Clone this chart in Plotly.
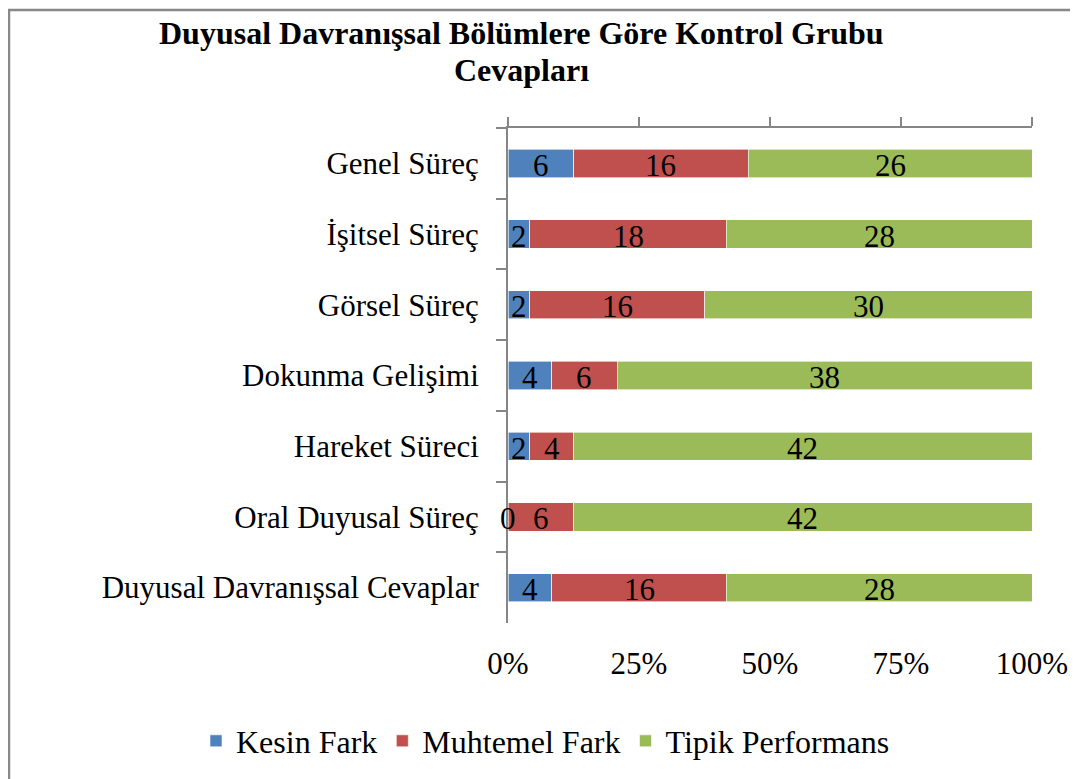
import plotly.graph_objects as go

categories = ["Genel Süreç", "İşitsel Süreç", "Görsel Süreç", "Dokunma Gelişimi",
              "Hareket Süreci", "Oral Duyusal Süreç", "Duyusal Davranışsal Cevaplar"]
kesin_fark = [6, 2, 2, 4, 2, 0, 4]
muhtemel_fark = [16, 18, 16, 6, 4, 6, 16]
tipik_performans = [26, 28, 30, 38, 42, 42, 28]
series_names = ["Kesin Fark", "Muhtemel Fark", "Tipik Performans"]
colors = ["#4F81BD", "#C0504D", "#9BBB59"]
tick_vals = [0, 25, 50, 75, 100]
tick_text = ["0%", "25%", "50%", "75%", "100%"]

# page body has an 8px margin; figure is sized to fit the 1078x779 window
OFF = 8
W, H = 1078 - OFF, 779 - OFF
PL, PR, PT, PB = 508 - OFF, 1032 - OFF, 128 - OFF, 623 - OFF
L, R, T, B = PL, W - PR, PT, H - PB
pw, ph = PR - PL, PB - PT
FONT = "Liberation Serif, Times New Roman, serif"
GRAY = "#868686"


def px_x(x):
    return (x - OFF - PL) / pw


def px_y(y):
    return (PB - (y - OFF)) / ph


series = [kesin_fark, muhtemel_fark, tipik_performans]
totals = [sum(v) for v in zip(*series)]

fig = go.Figure()
for name, vals, col in zip(series_names, series, colors):
    fig.add_trace(go.Bar(
        y=categories, x=vals, name=name, orientation="h",
        marker=dict(color=col, line=dict(color="white", width=0.6)),
        hoverinfo="x+y+name",
    ))

# data labels at segment midpoints (percent scale)
annotations = []
cum = [0.0] * len(categories)
for vals in series:
    for i, v in enumerate(vals):
        p = v / totals[i] * 100
        annotations.append(dict(
            x=cum[i] + p / 2, y=categories[i], xref="x", yref="y",
            text=str(v), showarrow=False, xanchor="center", yanchor="middle",
            yshift=-2, font=dict(family=FONT, size=31, color="black")))
        cum[i] += p

annotations += [
    dict(text="<b>Duyusal Davranışsal Bölümlere Göre Kontrol Grubu</b>",
         xref="paper", yref="paper", x=px_x(521), y=px_y(33),
         xanchor="center", yanchor="middle", showarrow=False,
         font=dict(family=FONT, size=32, color="black")),
    dict(text="<b>Cevapları</b>",
         xref="paper", yref="paper", x=px_x(521), y=px_y(70),
         xanchor="center", yanchor="middle", showarrow=False,
         font=dict(family=FONT, size=32, color="black")),
]

# top axis (line + ticks, no labels)
fig.add_trace(go.Scatter(x=[0, 100], y=[categories[0], categories[0]], xaxis="x2",
                         mode="markers", marker=dict(opacity=0), showlegend=False,
                         hoverinfo="skip"))

fig.update_layout(
    width=W, height=H,
    margin=dict(l=L, r=R, t=T, b=B, pad=0, autoexpand=False),
    paper_bgcolor="white", plot_bgcolor="white",
    barmode="stack", barnorm="percent", bargap=0.6,
    font=dict(family=FONT, size=31, color="black"),
    annotations=annotations,
    xaxis=dict(range=[0, 100], tickvals=tick_vals, ticktext=tick_text,
               showgrid=False, zeroline=False, showline=False, ticks="",
               ticklabelstandoff=19, tickfont=dict(size=31)),
    xaxis2=dict(range=[0, 100], overlaying="x", side="top", tickvals=tick_vals,
                showticklabels=False, showgrid=False, zeroline=False,
                showline=True, linecolor=GRAY, linewidth=2,
                ticks="outside", ticklen=9, tickcolor=GRAY, tickwidth=2),
    yaxis=dict(categoryorder="array", categoryarray=categories, autorange="reversed",
               showgrid=False, zeroline=False, showline=True,
               linecolor=GRAY, linewidth=2,
               ticks="outside", tickson="boundaries", ticklen=10,
               tickcolor=GRAY, tickwidth=2,
               ticklabelstandoff=21, tickfont=dict(size=31)),
    legend=dict(orientation="h", xref="paper", x=px_x(196), xanchor="left",
                y=px_y(741), yanchor="middle",
                font=dict(family=FONT, size=32), traceorder="normal",
                itemwidth=30),
    showlegend=True,
    shapes=[dict(type="rect", xref="paper", yref="paper",
                 x0=px_x(9), x1=px_x(1095),
                 y0=px_y(800), y1=px_y(10),
                 line=dict(color="#888888", width=2.5), fillcolor="rgba(0,0,0,0)",
                 layer="below")],
)

fig.write_html("out.html")
